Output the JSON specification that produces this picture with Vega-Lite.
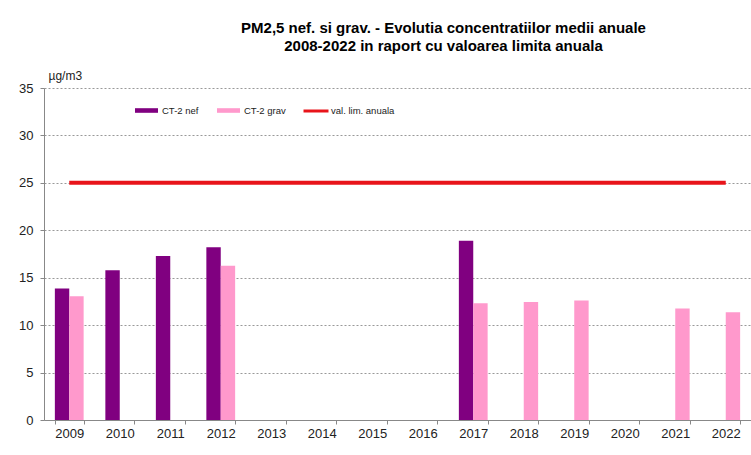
{
  "$schema": "https://vega.github.io/schema/vega-lite/v6.json",
  "width": 707,
  "height": 332,
  "autosize": {"type": "none"},
  "padding": {"left": 44, "top": 88, "right": 0, "bottom": 35},
  "background": "white",
  "config": {"font": "Liberation Sans", "view": {"stroke": null}},
  "title": {
    "text": ["PM2,5 nef. si grav. - Evolutia concentratiilor medii anuale", "2008-2022 in raport cu valoarea limita anuala"],
    "fontSize": 15,
    "fontWeight": "bold",
    "color": "#000000",
    "lineHeight": 18.5,
    "anchor": "middle",
    "frame": "group",
    "dx": 46,
    "dy": -11
  },
  "layer": [
    {
      "data": {"values": [
        {"year": "2009", "series": "CT-2 nef", "value": 13.85},
        {"year": "2009", "series": "CT-2 grav", "value": 13.05},
        {"year": "2010", "series": "CT-2 nef", "value": 15.8},
        {"year": "2011", "series": "CT-2 nef", "value": 17.3},
        {"year": "2012", "series": "CT-2 nef", "value": 18.2},
        {"year": "2012", "series": "CT-2 grav", "value": 16.25},
        {"year": "2017", "series": "CT-2 nef", "value": 18.9},
        {"year": "2017", "series": "CT-2 grav", "value": 12.3},
        {"year": "2018", "series": "CT-2 grav", "value": 12.45},
        {"year": "2019", "series": "CT-2 grav", "value": 12.6},
        {"year": "2021", "series": "CT-2 grav", "value": 11.75},
        {"year": "2022", "series": "CT-2 grav", "value": 11.35}
      ]},
      "mark": {"type": "bar"},
      "encoding": {
        "x": {
          "field": "year", "type": "nominal",
          "scale": {"domain": ["2009","2010","2011","2012","2013","2014","2015","2016","2017","2018","2019","2020","2021","2022"], "paddingInner": 0.43, "paddingOuter": 0.215},
          "axis": {"title": null, "labelAngle": 0, "tickBand": "extent", "tickSize": 4, "labelPadding": 3, "domainColor": "#888888", "tickColor": "#888888", "labelFontSize": 13, "labelColor": "#222222", "grid": false}
        },
        "xOffset": {"field": "series", "type": "nominal", "scale": {"domain": ["CT-2 nef", "CT-2 grav"], "paddingInner": 0, "paddingOuter": 0}},
        "y": {
          "field": "value", "type": "quantitative",
          "scale": {"domain": [0, 35]},
          "axis": {"title": "µg/m3", "titleAngle": 0, "titleAlign": "left", "titleBaseline": "middle", "titleX": 4, "titleY": -13, "titleFontSize": 12, "titleFontWeight": "normal", "titleColor": "#222222", "values": [0,5,10,15,20,25,30,35], "grid": true, "gridDash": [2,2], "gridColor": "#999999", "domainColor": "#888888", "tickColor": "#888888", "tickSize": 4, "labelPadding": 7, "labelFontSize": 13, "labelColor": "#222222"}
        },
        "fill": {
          "field": "series", "type": "nominal",
          "scale": {"domain": ["CT-2 nef", "CT-2 grav"], "range": ["#800080", "#ff99cc"]},
          "legend": {"title": null, "orient": "none", "direction": "horizontal", "legendX": 91, "legendY": 11, "padding": 0, "symbolType": "M-1,-0.2H1V0.2H-1Z", "symbolSize": 529, "symbolStrokeWidth": 0, "labelOffset": 4, "columnPadding": 18, "labelFontSize": 9.5, "labelColor": "#222222"}
        }
      }
    },
    {
      "data": {"values": [{"start": "2009", "end": "2022", "value": 25, "series": "val. lim. anuala"}]},
      "mark": {"type": "rule", "strokeWidth": 4},
      "encoding": {
        "x": {"field": "start", "type": "nominal"},
        "x2": {"field": "end"},
        "y": {"field": "value", "type": "quantitative"},
        "stroke": {
          "field": "series", "type": "nominal",
          "scale": {"domain": ["val. lim. anuala"], "range": ["#e8141a"]},
          "legend": {"title": null, "orient": "none", "legendX": 258, "legendY": 9, "padding": 0, "symbolType": "stroke", "symbolSize": 625, "symbolStrokeWidth": 3, "labelOffset": 1, "labelFontSize": 9.5, "labelColor": "#222222"}
        }
      }
    }
  ]
}
